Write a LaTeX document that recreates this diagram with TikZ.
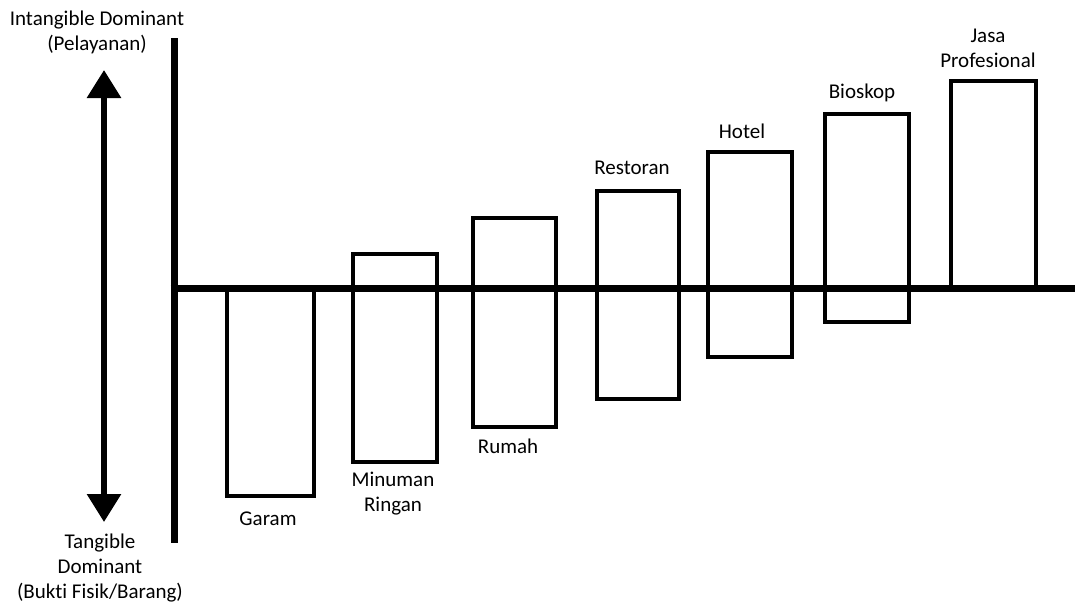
\documentclass[tikz,border=0pt]{standalone}
\usepackage{fontspec}
\setmainfont[Ligatures=NoCommon]{Carlito}
\usetikzlibrary{arrows.meta}
\begin{document}
\begin{tikzpicture}[x=1pt,y=-1pt,
  axis/.style={line width=7pt,line cap=butt},
  box/.style={draw,line width=3.5pt,rectangle,inner sep=0pt,outer sep=0pt},
  lbl/.style={inner sep=0pt,align=center,font=\fontsize{21}{25}\selectfont},
  dbl/.style={line width=6pt,{Triangle[width=33pt,length=28pt]}-{Triangle[width=33pt,length=28pt]}}]
\useasboundingbox (0,0) rectangle (1075,608);
% boxes
\draw[box] (227,289) rectangle (314,496);
\draw[box] (353,254) rectangle (437,462);
\draw[box] (473,218) rectangle (556,427);
\draw[box] (597,191) rectangle (679,399);
\draw[box] (708,152) rectangle (792,357);
\draw[box] (825,114) rectangle (909,322);
\draw[box] (951,81) rectangle (1036,289);
% axes
\coordinate (vtop) at (174,38);
\coordinate (vbot) at (174,543);
\coordinate (hleft) at (170.5,288);
\coordinate (hright) at (1075,288);
\draw[axis] (vtop) -- (vbot);
\draw[axis] (hleft) -- (hright);
% double arrow
\coordinate (atop) at (104,70);
\coordinate (abot) at (104,522);
\draw[dbl] (atop) -- (abot);
% labels
\node[lbl] (lIntan) at (97,32) {Intangible Dominant\\(Pelayanan)};
\node[lbl] (lTang) at (100,568) {Tangible\\Dominant\\(Bukti Fisik/Barang)};
\node[lbl] (lGaram) at (268,519) {Garam};
\node[lbl] (lMinuman) at (393,494) {Minuman\\Ringan};
\node[lbl] (lRumah) at (508,446) {Rumah};
\node[lbl] (lRestoran) at (632,168) {Restoran};
\node[lbl] (lHotel) at (742,131) {Hotel};
\node[lbl] (lBioskop) at (862,93) {Bioskop};
\node[lbl] (lJasa) at (988,48) {Jasa\\Profesional};
\end{tikzpicture}
\end{document}
